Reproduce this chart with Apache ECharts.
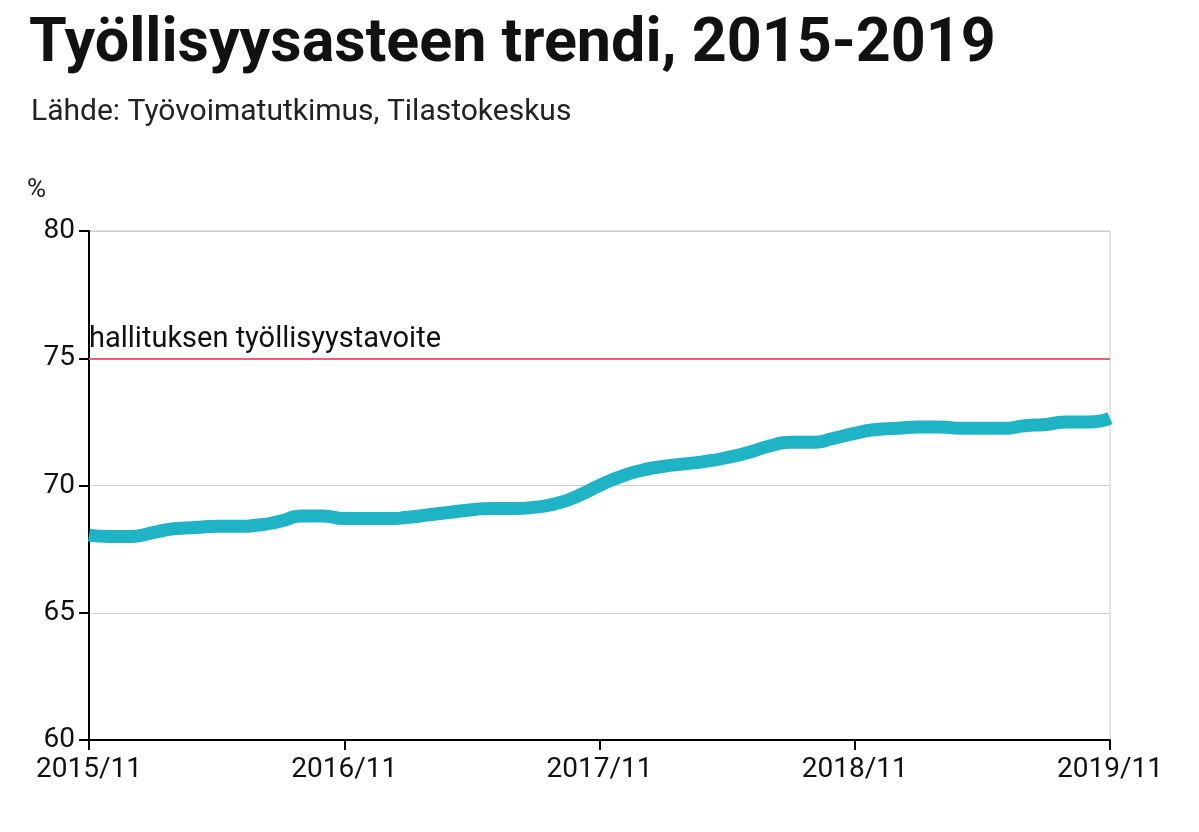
<!DOCTYPE html><html><head><meta charset="utf-8"><script src="https://cdn.jsdelivr.net/npm/echarts@6/dist/echarts.min.js"></script>
<style>body{margin:0}#c{width:1199px;height:832px}</style></head><body><div id="c"></div><script>
const categories=[];for(let y=2015,m=11;!(y===2019&&m===12);){categories.push(y+'/'+m);m++;if(m>12){m=1;y++;}}
const values=[68.05,68.0,68.0,68.15,68.3,68.35,68.4,68.4,68.45,68.6,68.8,68.8,68.7,68.7,68.7,68.75,68.85,68.95,69.05,69.1,69.1,69.15,69.3,69.6,70.0,70.35,70.6,70.75,70.85,70.95,71.1,71.3,71.55,71.7,71.7,71.85,72.05,72.2,72.25,72.3,72.3,72.25,72.25,72.25,72.35,72.4,72.5,72.5,72.65];
const target=75;
const yTicks=[60,65,70,75,80];
const F='Roboto';
echarts.init(document.getElementById('c')).setOption({
animation:false,
title:[{text:'Työllisyysasteen trendi, 2015-2019',left:24,top:10,textStyle:{fontFamily:F,fontWeight:'bold',fontSize:61,color:'#111'}},
{text:'Lähde: Työvoimatutkimus, Tilastokeskus',left:26,top:92,textStyle:{fontFamily:F,fontSize:30,color:'#222',fontWeight:'normal'}},
{text:'%',left:22,top:172,textStyle:{fontFamily:F,fontSize:26,color:'#222',fontWeight:'normal'}}],
grid:{left:89,right:89,top:231,bottom:92,show:true,borderColor:'#ccc',borderWidth:1},
xAxis:{type:'category',data:categories,boundaryGap:false,axisLine:{lineStyle:{color:'#000',width:2}},
axisTick:{interval:11,length:10,lineStyle:{color:'#000',width:2}},
axisLabel:{interval:11,fontFamily:F,fontSize:28,color:'#111',margin:16,showMaxLabel:true},splitLine:{show:false}},
yAxis:{type:'value',min:yTicks[0],max:yTicks[yTicks.length-1],interval:5,axisLine:{show:true,lineStyle:{color:'#000',width:2}},
axisTick:{show:true,length:10,lineStyle:{color:'#000',width:2}},axisLabel:{fontFamily:F,fontSize:28,color:'#111',margin:14},
splitLine:{lineStyle:{color:'#ccc'}}},
series:[{type:'line',data:values,smooth:0.6,showSymbol:false,lineStyle:{color:'#1fb3c6',width:13},
markLine:{symbol:'none',silent:true,data:[{yAxis:target}],lineStyle:{color:'#f0606a',width:2,type:'solid'},
label:{formatter:'hallituksen työllisyystavoite',position:'insideStartTop',fontFamily:F,fontSize:29,color:'#111',distance:[0,4]}}}]
});
</script></body></html>
